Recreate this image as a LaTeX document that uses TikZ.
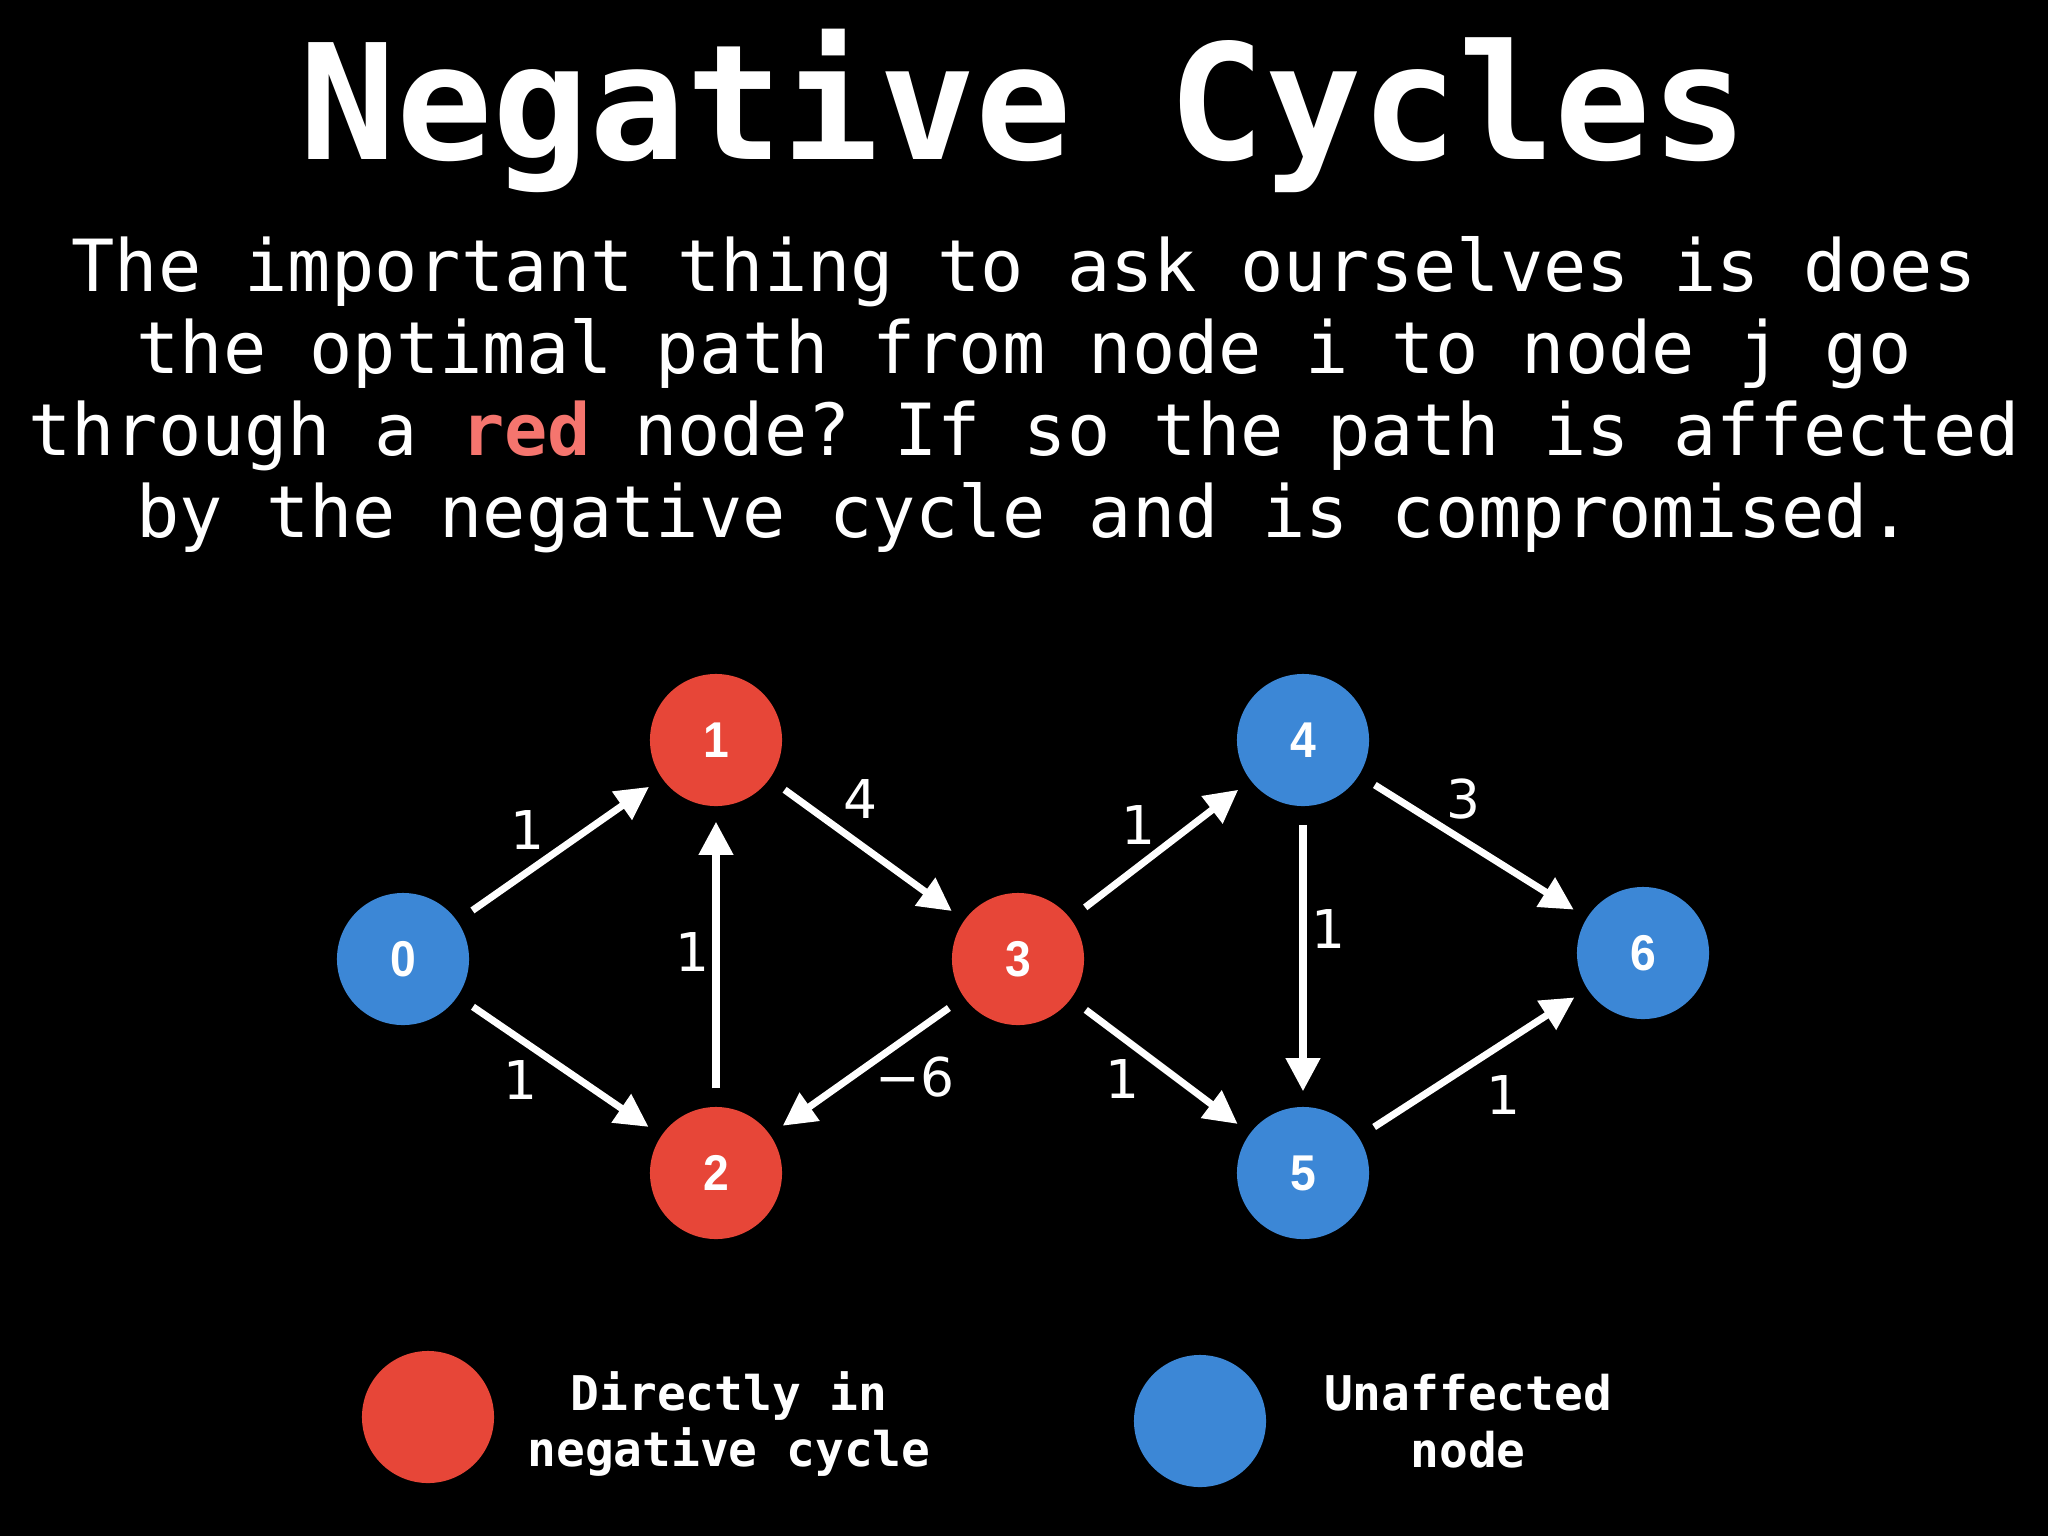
\documentclass[tikz,border=0pt]{standalone}
\usepackage{fontspec}
\setmonofont{DejaVu Sans Mono}
\newfontfamily\numfont[FakeStretch=0.92]{Liberation Sans}
\newfontfamily\weightfont{DejaVu Sans}
\definecolor{cyclered}{RGB}{231,70,56}
\definecolor{safeblue}{RGB}{60,135,214}
\definecolor{salmon}{RGB}{245,117,110}
\usetikzlibrary{
    arrows.meta,
    positioning
}
\tikzstyle{vertex} = [
    circle,
    minimum size=1.32cm,
    inner sep=0pt,
    text=white,
    font=\numfont\bfseries\fontsize{14.3}{16}\selectfont
]
\tikzstyle{edge} = [
    -{Triangle[length=3.3mm,width=3.3mm]},
    line width=2pt,
    draw=white,
    shorten <=1.8mm,
    shorten >=1.5mm
]
\tikzstyle{weight} = [
    text=white,
    inner sep=1pt,
    font=\weightfont\fontsize{15.2}{17}\selectfont
]
\tikzstyle{textline} = [
    text=white,
    anchor=base,
    font=\ttfamily\fontsize{20.45}{23}\selectfont
]

\begin{document}
\begin{tikzpicture}[x=0.01cm, y=-0.01cm]
    \fill[black] (0,0) rectangle (2048,1536);
    \useasboundingbox (0,0) rectangle (2048,1536);

    % Title and question
    \node[text=white, anchor=base, font=\ttfamily\bfseries\fontsize{45.6}{50}\selectfont] (title) at (1024,159) {Negative Cycles};
    \node[textline] (line1) at (1024,291) {The important thing to ask ourselves is does};
    \node[textline] (line2) at (1024,373) {the optimal path from node i to node j go};
    \node[textline] (line3) at (1024,455) {through a \textcolor{salmon}{\textbf{red}} node? If so the path is affected};
    \node[textline] (line4) at (1024,537) {by the negative cycle and is compromised.};

    % Nodes
    \node[vertex, fill=safeblue] (n0) at (403,959) {0};
    \node[vertex, fill=cyclered] (n1) at (716,740) {1};
    \node[vertex, fill=cyclered] (n2) at (716,1173) {2};
    \node[vertex, fill=cyclered] (n3) at (1018,959) {3};
    \node[vertex, fill=safeblue] (n4) at (1303,740) {4};
    \node[vertex, fill=safeblue] (n5) at (1303,1173) {5};
    \node[vertex, fill=safeblue] (n6) at (1643,953) {6};

    % Edges
    \draw[edge] (n0) -- (n1);
    \draw[edge] (n0) -- (n2);
    \draw[edge] (n2) -- (n1);
    \draw[edge] (n1) -- (n3);
    \draw[edge] (n3) -- (n2);
    \draw[edge] (n3) -- (n4);
    \draw[edge] (n3) -- (n5);
    \draw[edge] (n4) -- (n5);
    \draw[edge] (n4) -- (n6);
    \draw[edge] (n5) -- (n6);

    % Weights
    \node[weight] (w01) at (527,830) {1};
    \node[weight] (w02) at (520,1080) {1};
    \node[weight] (w21) at (692,952) {1};
    \node[weight] (w13) at (860,799) {4};
    \node[weight] (w32) at (915,1077) {−6};
    \node[weight] (w34) at (1138,825) {1};
    \node[weight] (w35) at (1122,1079) {1};
    \node[weight] (w45) at (1328,929) {1};
    \node[weight] (w46) at (1463,799) {3};
    \node[weight] (w56) at (1503,1095) {1};

    % Legend
    \node[vertex, fill=cyclered] (legred) at (428,1417) {};
    \node[vertex, fill=safeblue] (legblue) at (1200,1421) {};
    \node[text=white, align=center, font=\ttfamily\bfseries\fontsize{13.6}{16.2}\selectfont] (legredtext) at (729,1424) {Directly in\\negative cycle};
    \node[text=white, align=center, font=\ttfamily\bfseries\fontsize{13.6}{16.2}\selectfont] (legbluetext) at (1468,1421) {Unaffected\\node};
\end{tikzpicture}
\end{document}
